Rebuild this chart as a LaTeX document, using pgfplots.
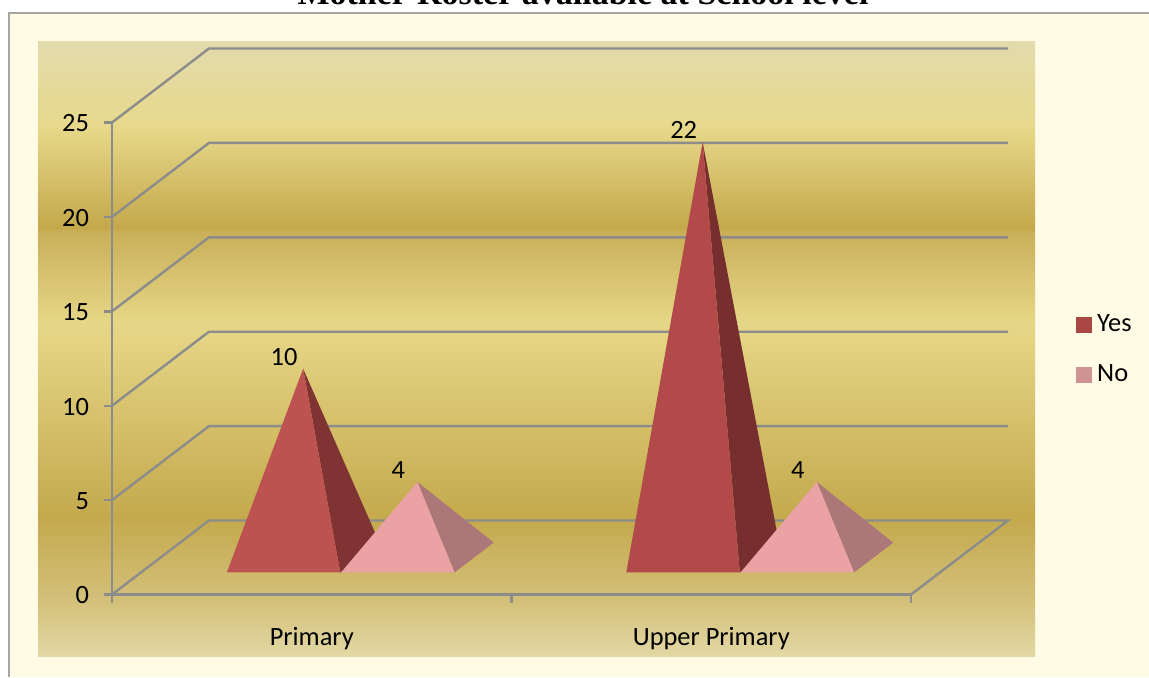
\documentclass[border=0pt]{standalone}
\usepackage{fontspec}
\setmainfont{Carlito}
\newfontfamily\titlefont{Liberation Serif}
\usepackage{pgfplots}
\pgfplotsset{compat=1.18}

\definecolor{cream}{HTML}{FFFBE4}
\definecolor{frameg}{HTML}{A6A6A2}
\definecolor{gridg}{HTML}{8C8C8A}
\definecolor{yesA}{HTML}{BD5350}
\definecolor{yesAside}{HTML}{7F3333}
\definecolor{yesB}{HTML}{B14A48}
\definecolor{yesBside}{HTML}{772E2F}
\definecolor{noF}{HTML}{EAA2A5}
\definecolor{noside}{HTML}{AB7778}
\definecolor{legyes}{HTML}{AA4643}
\definecolor{legno}{HTML}{D09394}

% panel gradient, visible part runs 25bp (bottom) to 75bp (top)
\definecolor{p0}{HTML}{E2D8A4}
\definecolor{p1}{HTML}{D3C07A}
\definecolor{p2}{HTML}{C4A94D}
\definecolor{p3}{HTML}{E6D788}
\definecolor{p4}{HTML}{C9AF59}
\definecolor{p5}{HTML}{C4A84B}
\definecolor{p6}{HTML}{E7D98B}
\definecolor{p7}{HTML}{E3DAAE}
\pgfdeclareverticalshading{panel}{100bp}{
  color(0bp)=(p0);
  color(25bp)=(p0);
  color(29.5bp)=(p1);
  color(36.2bp)=(p2);
  color(52bp)=(p3);
  color(59.5bp)=(p4);
  color(59.8bp)=(p5);
  color(68.1bp)=(p6);
  color(75bp)=(p7);
  color(100bp)=(p7)}

\pgfplotsset{
  % pyramids stand in the middle of the floor, half way back
  centre plane/.style={x filter/.expression={x+0.1214}, y filter/.expression={y+1.96}},
  face/.style={centre plane, draw=none, fill=#1, forget plot},
  wall/.style={draw=gridg, line width=1.2pt, forget plot},
}

\begin{document}
\begin{tikzpicture}[x=0.5pt,y=-0.5pt]
\path[use as bounding box] (0,0) rectangle (1149,677);
\clip (0,0) rectangle (1149,677);

% page, frame and panel
\fill[white] (0,0) rectangle (1149,677);
\fill[cream] (9,13) rectangle (1149,677);
\draw[frameg, line width=1.3pt] (9,677) -- (9,13) -- (1149,13);
\shade[shading=panel] (38,41) rectangle (1035,656);

\node[font=\titlefont\bfseries\fontsize{17}{20}\selectfont, anchor=base] at (583,4) {Mother-Roster available at School level};

\coordinate (o) at (112,594.5);
\begin{axis}[
    at={(o)}, anchor=south west,
    scale only axis,
    width=399.5pt, height=236pt,
    xmin=0, xmax=2, ymin=0, ymax=25,
    clip=false,
    axis x line=bottom, axis y line=left,
    axis line style={draw=gridg, line width=1.2pt, -},
    xtick={0.5,1.5},
    xticklabels={Primary,Upper Primary},
    minor xtick={0,1,2},
    ytick={0,5,10,15,20,25},
    major x tick style={draw=none},
    minor tick length=4pt,
    major tick length=4pt,
    tick style={draw=gridg, line width=1.2pt},
    tick align=outside,
    ticklabel style={font=\fontsize{13.2}{16}\selectfont},
    xticklabel style={yshift=-9pt},
    yticklabel style={xshift=-4pt, yshift=-0.5pt},
    /pgf/number format/assume math mode=true,
    legend style={at={(1.2065,0.519)}, anchor=west, draw=none, fill=none,
      inner sep=0pt, font=\fontsize{13.2}{16}\selectfont,
      row sep=11pt, /tikz/every odd column/.append style={column sep=0.5pt}},
    legend cell align=left,
    legend image code/.code={\fill[#1] (0pt,-3.75pt) rectangle (7.5pt,3.75pt);},
]

% back wall and floor
\addplot[wall] coordinates {(0,5) (0.2428,8.92) (2.2428,8.92)};
\addplot[wall] coordinates {(0,10) (0.2428,13.92) (2.2428,13.92)};
\addplot[wall] coordinates {(0,15) (0.2428,18.92) (2.2428,18.92)};
\addplot[wall] coordinates {(0,20) (0.2428,23.92) (2.2428,23.92)};
\addplot[wall] coordinates {(0,25) (0.2428,28.92) (2.2428,28.92)};
\addplot[wall] coordinates {(0,0) (0.2428,3.92) (2.2428,3.92) (2,0)};

% Primary, Yes = 10
\addplot[face=yesAside] coordinates {(0.450,-0.79) (0.548,0.79) (0.357,10)};
\addplot[face=yesA] coordinates {(0.166,-0.79) (0.450,-0.79) (0.357,10)};
% Primary, No = 4
\addplot[face=noside] coordinates {(0.736,-0.79) (0.834,0.79) (0.643,4)};
\addplot[face=noF] coordinates {(0.452,-0.79) (0.736,-0.79) (0.643,4)};
% Upper Primary, Yes = 22
\addplot[face=yesBside] coordinates {(1.450,-0.79) (1.548,0.79) (1.357,22)};
\addplot[face=yesB] coordinates {(1.166,-0.79) (1.450,-0.79) (1.357,22)};
% Upper Primary, No = 4
\addplot[face=noside] coordinates {(1.736,-0.79) (1.834,0.79) (1.643,4)};
\addplot[face=noF] coordinates {(1.452,-0.79) (1.736,-0.79) (1.643,4)};

% value labels, up and left of each apex
\addplot[centre plane, draw=none, forget plot, point meta=rawy, nodes near coords,
  every node near coord/.append style={anchor=center, xshift=-9.5pt, yshift=6pt,
    font=\fontsize{13.2}{16}\selectfont}]
  coordinates {(0.357,10) (0.643,4) (1.357,22) (1.643,4)};

\addlegendimage{legend image code/.code={\fill[legyes] (0pt,-3.75pt) rectangle (7.5pt,3.75pt);}}
\addlegendentry{Yes}
\addlegendimage{legend image code/.code={\fill[legno] (0pt,-3.75pt) rectangle (7.5pt,3.75pt);}}
\addlegendentry{No}
\end{axis}
\end{tikzpicture}
\end{document}
